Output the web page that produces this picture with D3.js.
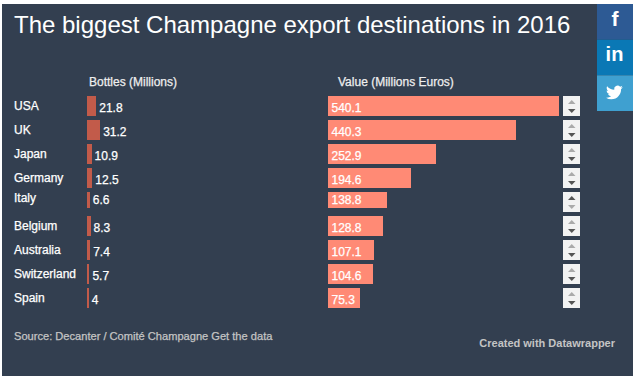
<!DOCTYPE html>
<html>
<head>
<meta charset="utf-8">
<script src="https://cdn.jsdelivr.net/npm/d3@7"></script>
<style>
  html, body { margin: 0; padding: 0; background: #fff; }
  text { font-family: "Liberation Sans", Arial, sans-serif; }
  .heavy { stroke-width: 0.25px; paint-order: stroke; }
</style>
</head>
<body>
<div id="chart"></div>
<script>
// data
const countries = ["USA", "UK", "Japan", "Germany", "Italy", "Belgium", "Australia", "Switzerland", "Spain"];
const bottles = [21.8, 31.2, 10.9, 12.5, 6.6, 8.3, 7.4, 5.7, 4];
const bottleLabels = ["21.8", "31.2", "10.9", "12.5", "6.6", "8.3", "7.4", "5.7", "4"];
const values = [540.1, 440.3, 252.9, 194.6, 138.8, 128.8, 107.1, 104.6, 75.3];
const valueLabels = ["540.1", "440.3", "252.9", "194.6", "138.8", "128.8", "107.1", "104.6", "75.3"];
const socialColors = ["#2d5a94", "#0a78b5", "#3fa0d0"];

// the Italy row is the sorted one: shorter, labels shifted up, arrow colours swapped
const sortedRow = "Italy";

const width = 633, height = 376;

const svg = d3.select("#chart").append("svg")
    .attr("width", width)
    .attr("height", height)
    .style("display", "block");

// background panel
svg.append("rect")
    .attr("x", 2).attr("y", 4)
    .attr("width", width - 2).attr("height", height - 4)
    .attr("fill", "#333f50");

svg.append("text")
    .attr("x", 14).attr("y", 33)
    .attr("fill", "#fff")
    .style("font-size", "24px")
    .text("The biggest Champagne export destinations in 2016");

// scales
const y = d3.scaleBand().domain(countries).range([96, 308]).paddingInner(1 / 6).paddingOuter(0).align(0);
const xBottles = d3.scaleLinear().domain([0, 31.2]).range([87, 100.2]);
const xValues = d3.scaleLinear().domain([0, 540.1]).range([328, 559]);
const rowHeight = d => d === sortedRow ? y.bandwidth() - 4 : y.bandwidth();
const textShift = d => d === sortedRow ? -4 : 0;

// column headers
svg.append("text").attr("x", 89).attr("y", 86).attr("fill", "#eee").attr("stroke", "#eee").attr("class", "heavy")
    .style("font-size", "12px").text("Bottles (Millions)");
svg.append("text").attr("x", 338).attr("y", 86).attr("fill", "#eee").attr("stroke", "#eee").attr("class", "heavy")
    .style("font-size", "12px").text("Value (Millions Euros)");

const rows = svg.selectAll("g.row")
    .data(countries)
    .enter().append("g")
    .attr("class", "row");

// country names
rows.append("text")
    .attr("class", "heavy")
    .attr("x", 14)
    .attr("y", d => y(d) + 14 + textShift(d))
    .attr("fill", "#fff")
    .attr("stroke", "#fff")
    .style("font-size", "12px")
    .text(d => d);

// bottles bars
rows.append("rect")
    .attr("x", xBottles(0))
    .attr("y", d => y(d))
    .attr("width", (d, i) => xBottles(bottles[i]) - xBottles(0))
    .attr("height", rowHeight)
    .attr("fill", "#c25b4a")
    .attr("shape-rendering", "crispEdges");

rows.append("text")
    .attr("class", "heavy")
    .attr("x", (d, i) => xBottles(bottles[i]) + 3)
    .attr("y", d => y(d) + 16 + textShift(d))
    .attr("fill", "#fff")
    .attr("stroke", "#fff")
    .style("font-size", "12px")
    .text((d, i) => bottleLabels[i]);

// value bars
rows.append("rect")
    .attr("x", xValues(0))
    .attr("y", d => y(d))
    .attr("width", (d, i) => xValues(values[i]) - xValues(0))
    .attr("height", rowHeight)
    .attr("fill", "#ff8a75")
    .attr("shape-rendering", "crispEdges");

rows.append("text")
    .attr("class", "heavy")
    .attr("x", xValues(0) + 3.5)
    .attr("y", d => y(d) + 16 + textShift(d))
    .attr("fill", "#fff")
    .attr("stroke", "#fff")
    .style("font-size", "12px")
    .text((d, i) => valueLabels[i]);

// sort buttons
const sort = rows.append("g")
    .attr("transform", d => "translate(563," + y(d) + ")");
sort.append("rect").attr("width", 17).attr("height", y.bandwidth()).attr("fill", "#f2f2f2");
sort.append("path").attr("d", "M5 8L12.5 8L8.75 4Z").attr("fill", d => d === sortedRow ? "#555" : "#aaa");
sort.append("path").attr("d", "M5 13L12.5 13L8.75 17Z").attr("fill", d => d === sortedRow ? "#aaa" : "#555");

// share buttons
const shareY = d3.scaleBand().domain(["f", "in", "t"]).range([4, 111]);
svg.selectAll("rect.share")
    .data(shareY.domain())
    .enter().append("rect")
    .attr("class", "share")
    .attr("x", 597)
    .attr("y", d => shareY(d))
    .attr("width", 36)
    .attr("height", shareY.bandwidth())
    .attr("fill", (d, i) => socialColors[i]);
svg.append("text").attr("x", 615).attr("y", 26).attr("text-anchor", "middle")
    .attr("fill", "#fff").style("font-size", "21px").style("font-weight", "bold").text("f");
svg.append("text").attr("x", 614.5).attr("y", 61).attr("text-anchor", "middle")
    .attr("fill", "#fff").style("font-size", "20px").style("font-weight", "bold").text("in");
// twitter bird
svg.append("path")
    .attr("transform", "translate(606,84) scale(0.7)")
    .attr("fill", "#fff")
    .attr("d", "M23.953 4.57a10 10 0 01-2.825.775 4.958 4.958 0 002.163-2.723c-.951.555-2.005.959-3.127 1.184a4.92 4.92 0 00-8.384 4.482C7.69 8.095 4.067 6.13 1.64 3.162a4.822 4.822 0 00-.666 2.475c0 1.71.87 3.213 2.188 4.096a4.904 4.904 0 01-2.228-.616v.06a4.923 4.923 0 003.946 4.827 4.996 4.996 0 01-2.212.085 4.936 4.936 0 004.604 3.417 9.867 9.867 0 01-6.102 2.105c-.39 0-.779-.023-1.17-.067a13.995 13.995 0 007.557 2.209c9.053 0 13.998-7.496 13.998-13.985 0-.21 0-.42-.015-.63A9.935 9.935 0 0024 4.59z");

// footer
svg.append("text").attr("x", 14).attr("y", 340).attr("fill", "#c4c4c4").attr("stroke", "#c4c4c4").attr("class", "heavy")
    .style("font-size", "11.1px").text("Source: Decanter / Comité Champagne Get the data");
svg.append("text").attr("x", 615).attr("y", 347).attr("text-anchor", "end").attr("fill", "#c4c4c4")
    .style("font-size", "11px").style("font-weight", "bold").text("Created with Datawrapper");
</script>
</body>
</html>
